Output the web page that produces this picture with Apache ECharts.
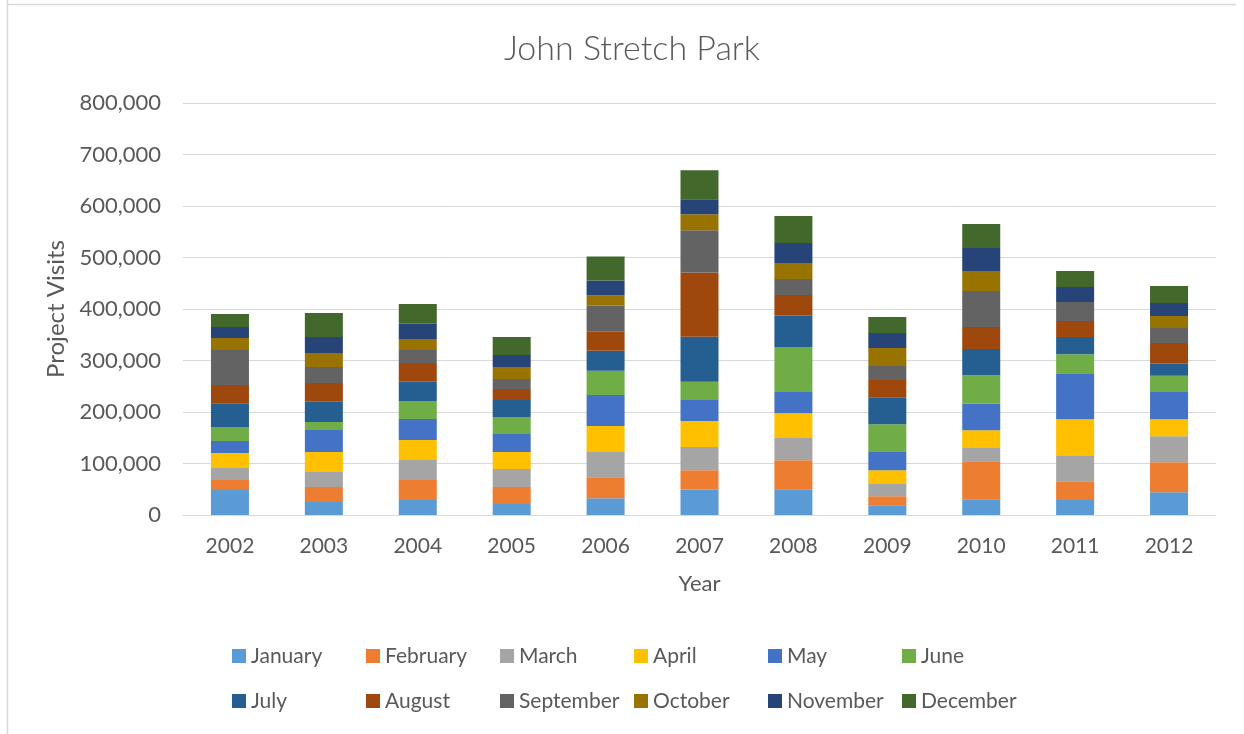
<!DOCTYPE html>
<html>
<head>
<meta charset="utf-8">
<script src="https://cdn.jsdelivr.net/npm/echarts@6/dist/echarts.min.js"></script>
<style>html,body{margin:0;padding:0;background:#fff;}#main{width:1244px;height:734px;}</style>
</head>
<body>
<div id="main"></div>
<script>
const years = ['2002','2003','2004','2005','2006','2007','2008','2009','2010','2011','2012'];
const months = ['January','February','March','April','May','June','July','August','September','October','November','December'];
const january   = [48500, 25200, 29100, 21400, 32500, 49400, 49900, 18800, 30500, 29200, 44100];
const february  = [19500, 29100, 38800, 33000, 40900, 37700, 56400, 17500, 73900, 36300, 58300];
const march     = [23300, 29100, 38800, 35000, 48700, 44800, 43400, 25300, 25900, 50500, 50600];
const april     = [29100, 38800, 38800, 33000, 50600, 50600, 48000, 25300, 34300, 70000, 33100];
const may       = [23300, 42700, 40800, 35000, 60400, 40900, 42800, 36900, 51200, 89400, 54400];
const june      = [27200, 15500, 35000, 33000, 46800, 35100, 85500, 52500, 55700, 36900, 29800];
const july      = [45900, 39500, 37500, 33000, 39000, 87700, 60900, 52500, 50600, 33100, 23300];
const august    = [35600, 36200, 36200, 21400, 37000, 124700, 40200, 33100, 42800, 31100, 40200];
const september = [68000, 31100, 25200, 19400, 50600, 81800, 31100, 27200, 70000, 36900, 29200];
const october   = [23300, 27200, 21400, 23300, 19500, 31200, 31100, 35000, 38900, 0, 23300];
const november  = [21300, 31100, 29800, 23300, 29200, 29200, 38900, 29200, 44700, 29200, 25300];
const december  = [25300, 46600, 38200, 35000, 46800, 56500, 52500, 31100, 46700, 31100, 33100];
const yTicks = [0, 100000, 200000, 300000, 400000, 500000, 600000, 700000, 800000];

const values = [january, february, march, april, may, june, july, august, september, october, november, december];
const colors = ['#5B9BD5','#ED7D31','#A5A5A5','#FFC000','#4472C4','#70AD47','#255E91','#9E480E','#636363','#997300','#264478','#43682B'];
const FONT = 'Lato, "Liberation Sans", sans-serif';
const TXT = '#595959';

const chart = echarts.init(document.getElementById('main'));
const legendBase = {
  orient: 'horizontal', left: 227, itemWidth: 14, itemHeight: 14, itemGap: 5,
  icon: 'rect',
  textStyle: { color: TXT, fontSize: 21, fontFamily: FONT, width: 110, overflow: 'none', lineHeight: 22 }
};
chart.setOption({
  animation: false,
  color: colors,
  title: {
    text: 'John Stretch Park', left: 627, top: 27, textAlign: 'center',
    textStyle: { color: TXT, fontSize: 34, fontWeight: 300, fontFamily: FONT }
  },
  graphic: [
    { type: 'line', shape: { x1: 7.5, y1: 0, x2: 7.5, y2: 734 }, style: { stroke: '#D9D9D9', lineWidth: 1.5 } },
    { type: 'line', shape: { x1: 7, y1: 4.5, x2: 1236, y2: 4.5 }, style: { stroke: '#D9D9D9', lineWidth: 1.5 } }
  ],
  legend: [
    Object.assign({}, legendBase, { top: 640, data: months.slice(0, 6) }),
    Object.assign({}, legendBase, { top: 685, data: months.slice(6) })
  ],
  grid: { left: 183, right: 28, top: 103, bottom: 219, containLabel: false },
  xAxis: {
    type: 'category', data: years,
    name: 'Year', nameLocation: 'middle', nameGap: 58,
    nameTextStyle: { color: TXT, fontSize: 22, fontFamily: FONT },
    axisLine: { lineStyle: { color: '#D9D9D9', width: 1 } },
    axisTick: { show: false },
    axisLabel: { color: TXT, fontSize: 21, fontFamily: FONT, margin: 21 }
  },
  yAxis: {
    type: 'value', min: yTicks[0], max: yTicks[yTicks.length - 1], interval: yTicks[1] - yTicks[0],
    name: 'Project Visits', nameLocation: 'middle', nameGap: 112,
    nameTextStyle: { color: TXT, fontSize: 24, fontFamily: FONT },
    axisLine: { show: false }, axisTick: { show: false },
    splitLine: { lineStyle: { color: '#D9D9D9', width: 1 } },
    axisLabel: { color: TXT, fontSize: 22, fontFamily: FONT, margin: 22,
      formatter: v => v.toLocaleString('en-US') }
  },
  series: months.map((m, i) => ({
    name: m, type: 'bar', stack: 'total', barWidth: 38,
    data: values[i], itemStyle: { color: colors[i] }
  }))
});
</script>
</body>
</html>
